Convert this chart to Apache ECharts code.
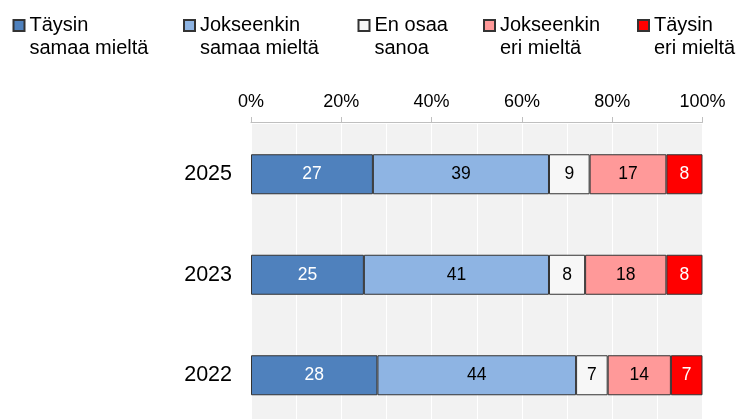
<!DOCTYPE html>
<html><head><meta charset="utf-8">
<script src="https://cdn.jsdelivr.net/npm/echarts@6/dist/echarts.min.js"></script>
<style>html,body{margin:0;padding:0;background:#fff}#c{width:736px;height:419px}</style>
</head><body><div id="c"></div>
<script>
const years = ['2025', '2023', '2022'];
const seriesNames = ['Täysin\nsamaa mieltä', 'Jokseenkin\nsamaa mieltä', 'En osaa\nsanoa', 'Jokseenkin\neri mieltä', 'Täysin\neri mieltä'];
const taysinSamaa = [27, 25, 28];
const jokseenkinSamaa = [39, 41, 44];
const enOsaa = [9, 8, 7];
const jokseenkinEri = [17, 18, 14];
const taysinEri = [8, 8, 7];
const xTicks = [0, 20, 40, 60, 80, 100];

const values = [taysinSamaa, jokseenkinSamaa, enOsaa, jokseenkinEri, taysinEri];
const colors = ['#4f81bd', '#8eb4e3', '#f7f7f7', '#ff9999', '#ff0000'];
const labelColors = ['#ffffff', '#000000', '#000000', '#000000', '#ffffff'];
const legendLeft = [12.5, 183, 357.5, 483, 637];

const font = 'Liberation Sans, Arial, sans-serif';
const chart = echarts.init(document.getElementById('c'));
chart.setOption({
  animation: false,
  textStyle: { fontFamily: font },
  legend: seriesNames.map((n, i) => ({
    data: [n],
    left: legendLeft[i],
    top: -9,
    padding: 0,
    itemWidth: 11,
    itemHeight: 11,
    selectedMode: false,
    icon: 'rect',
    formatter: (name) => '\n' + name,
    textStyle: { fontSize: 20, lineHeight: 23, color: '#000', fontFamily: font }
  })),
  grid: { left: 251, width: 451.5, top: 124, height: 301.5, show: true, backgroundColor: '#f2f2f2', borderWidth: 0, containLabel: false, outerBoundsMode: 'none' },
  xAxis: {
    type: 'value', position: 'top', min: xTicks[0], max: xTicks[xTicks.length - 1], interval: 20, offset: 2,
    axisLine: { show: true, lineStyle: { color: '#bfbfbf', width: 1 } },
    axisTick: { show: true, length: 5, lineStyle: { color: '#bfbfbf' } },
    axisLabel: { formatter: '{value}%', fontSize: 18, color: '#000', margin: 11, fontFamily: font },
    splitLine: { show: true, lineStyle: { color: '#ffffff', width: 1 } },
    minorTick: { show: false, splitNumber: 2 },
    minorSplitLine: { show: true, lineStyle: { color: '#ffffff', width: 1 } }
  },
  yAxis: {
    type: 'category', data: years, inverse: true,
    axisLine: { show: false }, axisTick: { show: false },
    axisLabel: { fontSize: 21.5, color: '#000', margin: 19, fontFamily: font }
  },
  series: values.map((v, i) => ({
    name: seriesNames[i], type: 'bar', stack: 'all', data: v, barWidth: 40,
    itemStyle: { color: colors[i], borderColor: '#333333', borderWidth: 1 },
    label: { show: true, position: 'inside', fontSize: 17.5, color: labelColors[i], fontFamily: font }
  }))
});
</script></body></html>
